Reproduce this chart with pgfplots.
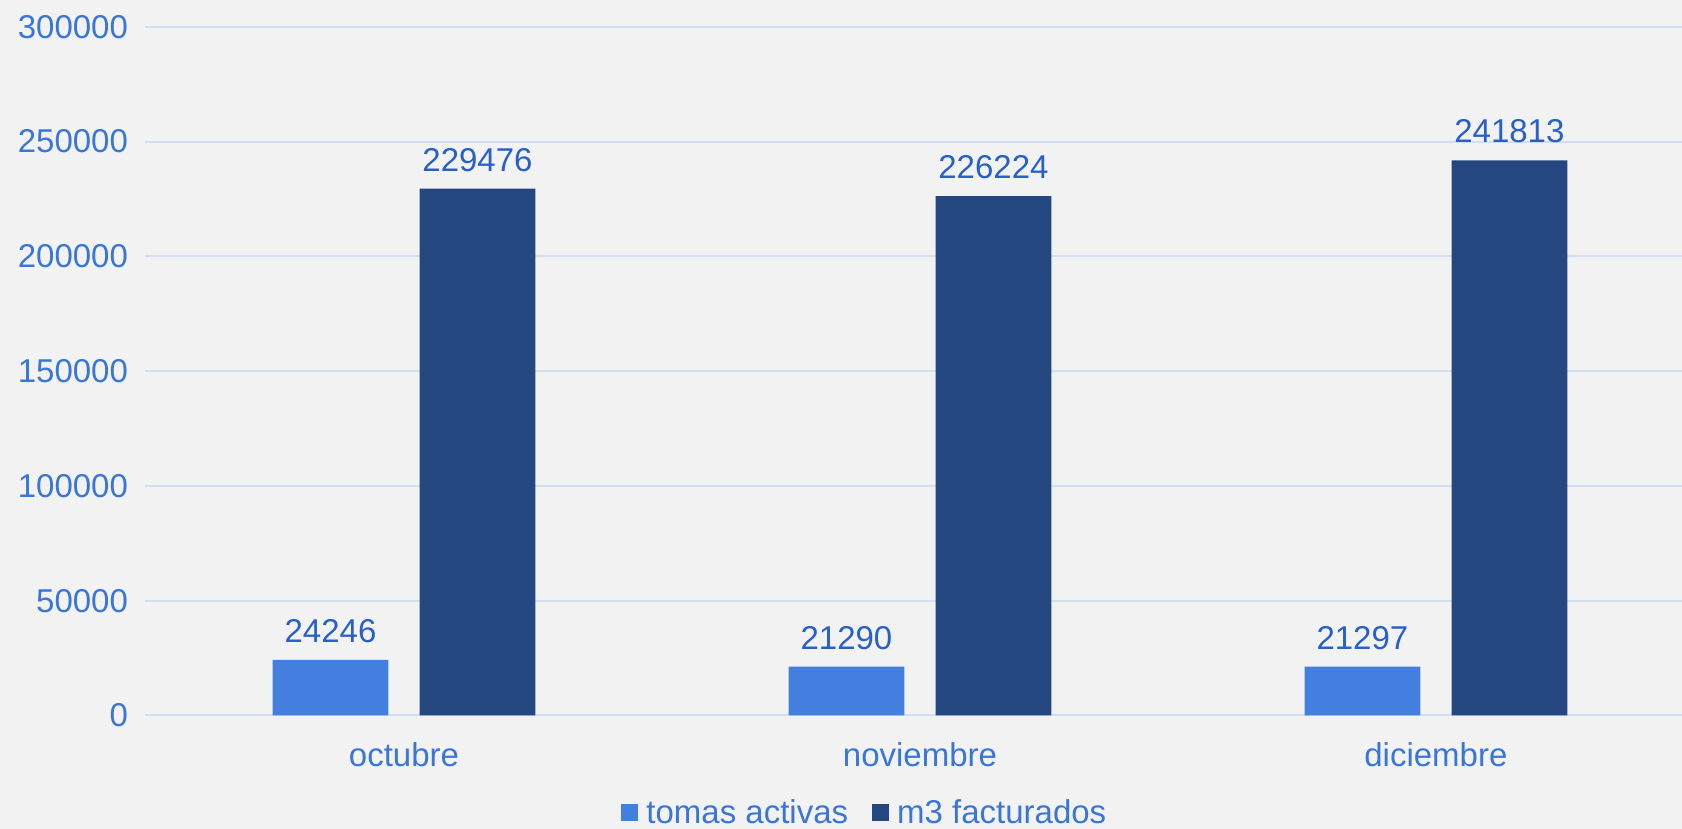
\documentclass[border=0pt]{standalone}
\usepackage{fontspec}
\setmainfont{Liberation Sans}
\usepackage{pgfplots}
\pgfplotsset{compat=1.18}
\usetikzlibrary{backgrounds}
\definecolor{bgcol}{RGB}{242,242,242}
\definecolor{gridcol}{RGB}{210,222,244}
\definecolor{tickcol}{RGB}{58,118,216}
\definecolor{labcol}{RGB}{40,96,200}
\definecolor{tomas}{RGB}{67,127,223}
\definecolor{mtres}{RGB}{36,71,128}
\begin{document}
\begin{tikzpicture}
\begin{axis}[
    at={(0,0)}, anchor=south west,
    scale only axis,
    width=768.5pt, height=344.35pt,
    ybar=15.6pt, bar width=57.9pt,
    xmin=-0.502, xmax=2.477,
    ymin=0, ymax=300000,
    xtick={0,1,2},
    xticklabels={octubre,noviembre,diciembre},
    ytick={0,50000,100000,150000,200000,250000,300000},
    yticklabels={0,50000,100000,150000,200000,250000,300000},
    scaled y ticks=false,
    axis line style={draw=none},
    major tick length=0pt,
    ymajorgrids=true,
    grid style={gridcol, line width=1pt},
    tick label style={font=\fontsize{16.5}{18}\selectfont, text=tickcol},
    yticklabel style={xshift=-5pt},
    xticklabel style={yshift=-10pt},
    point meta=explicit symbolic,
    nodes near coords,
    nodes near coords style={font=\fontsize{16.5}{18}\selectfont, text=labcol, yshift=5pt},
    legend style={draw=none, fill=none, font=\fontsize{16.5}{18}\selectfont,
        text=tickcol, at={(0.469,-0.141)}, anchor=center,
        legend columns=2, /tikz/every even column/.append style={column sep=10pt}},
    legend image code/.code={\fill[#1] (0pt,-4.25pt) rectangle (8.5pt,4.25pt);},
    clip=false,
]
\addplot[fill=tomas, draw=none] coordinates {(0,24246) [24246] (1,21290) [21290] (2,21297) [21297]};
\addlegendentry{\hspace{2pt}tomas activas}
\addplot[fill=mtres, draw=none] coordinates {(0,229476) [229476] (1,226224) [226224] (2,241813) [241813]};
\addlegendentry{\hspace{2pt}m3 facturados}
\end{axis}
\begin{scope}[on background layer]
\fill[bgcol] (-72.5pt,-56.75pt) rectangle (768.5pt,357.75pt);
\end{scope}
\pgfresetboundingbox
\useasboundingbox (-72.5pt,-56.75pt) rectangle (768.5pt,357.75pt);
\end{tikzpicture}
\end{document}
